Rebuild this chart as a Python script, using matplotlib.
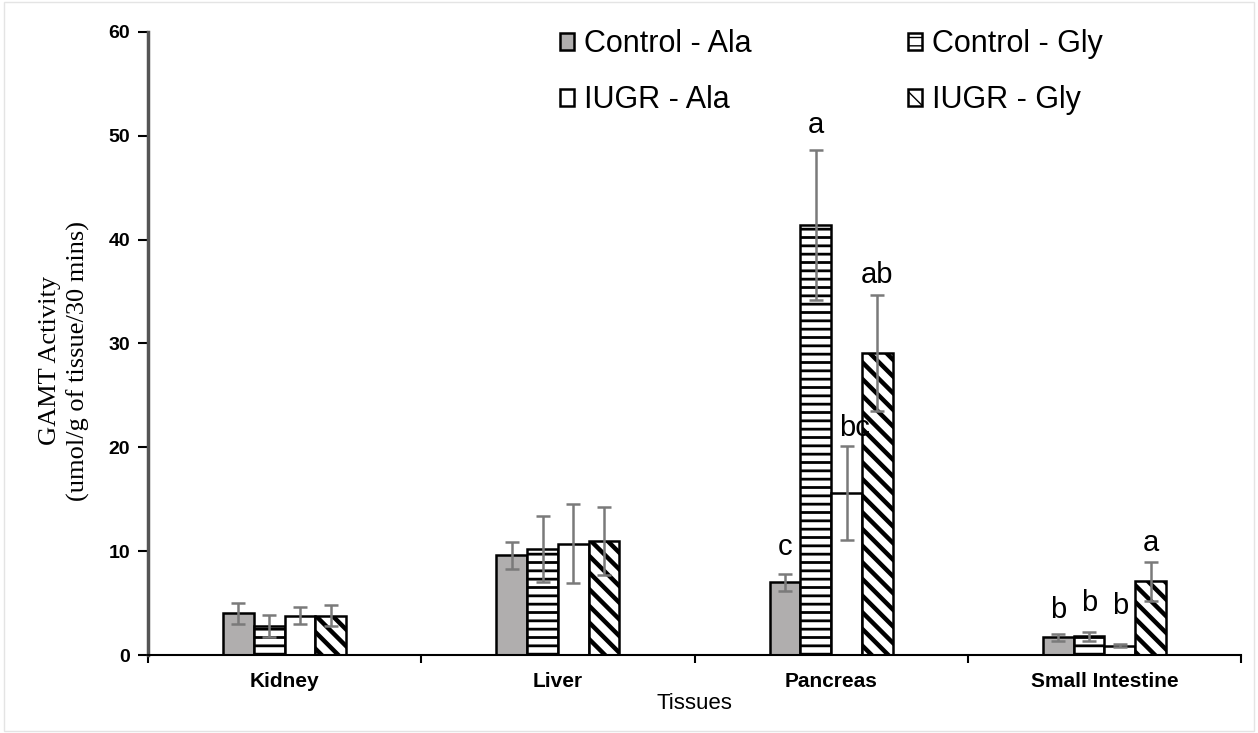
import numpy as np
import matplotlib.pyplot as plt
import matplotlib as mpl

plt.rcParams['font.family'] = ['Liberation Sans', 'DejaVu Sans']

tissues = ["Kidney", "Liver", "Pancreas", "Small Intestine"]
groups = ["Control - Ala", "Control - Gly", "IUGR - Ala", "IUGR - Gly"]

# mean activity per group, one list per tissue order
ctrl_ala = [4.0, 9.6, 7.0, 1.7]
ctrl_gly = [2.8, 10.2, 41.4, 1.8]
iugr_ala = [3.8, 10.7, 15.6, 0.9]
iugr_gly = [3.8, 11.0, 29.1, 7.1]

ctrl_ala_err = [1.0, 1.3, 0.8, 0.35]
ctrl_gly_err = [1.1, 3.2, 7.2, 0.45]
iugr_ala_err = [0.8, 3.8, 4.5, 0.15]
iugr_gly_err = [1.0, 3.3, 5.6, 1.9]

# significance letters: (tissue index, group index, letter, height)
sig_tissue = [2, 2, 2, 2, 3, 3, 3, 3]
sig_group = [0, 1, 2, 3, 0, 1, 2, 3]
sig_text = ["c", "a", "bc", "ab", "b", "b", "b", "a"]
sig_y = [10.4, 51.0, 21.9, 36.6, 4.3, 5.0, 4.7, 10.8]

means = [ctrl_ala, ctrl_gly, iugr_ala, iugr_gly]
errs = [ctrl_ala_err, ctrl_gly_err, iugr_ala_err, iugr_gly_err]
faces = ["#b0aeae", "white", "white", "white"]
hatches = [None, "--", None, "\\\\"]
hatch_lw = [1.0, 2.0, 1.0, 3.2]

fig = plt.figure(figsize=(12.58, 7.33), dpi=100)
ax = fig.add_axes([0.1176, 0.1064, 0.869, 0.850])

x = np.arange(len(tissues)) + 0.5
w = 0.1125
handles = []
for k in range(4):
    pos = x + (k - 1.5) * w
    with mpl.rc_context({'hatch.linewidth': hatch_lw[k]}):
        b = ax.bar(pos, means[k], width=w, color=faces[k], edgecolor="black",
                   linewidth=1.8, hatch=hatches[k], label=groups[k], zorder=2)
    handles.append(b)
    ax.errorbar(pos, means[k], yerr=errs[k], fmt="none", ecolor="#7a7a7a",
                elinewidth=1.8, capsize=5, capthick=1.8, zorder=3)

for t, g, s, yv in zip(sig_tissue, sig_group, sig_text, sig_y):
    xp = x[t] + (g - 1.5) * w
    if s == "bc":
        xp += 0.03
    ax.text(xp, yv, s, ha="center", va="center", fontsize=21)

ax.set_xlim(0, 4)
ax.set_ylim(0, 60)
ax.set_yticks(np.arange(0, 61, 10))
ax.set_xticks(x)
ax.set_xticklabels(tissues, fontweight="bold", fontsize=15)
ax.set_xticks(np.arange(0, 5), minor=True)
ax.tick_params(axis="x", which="major", length=0, pad=12)
ax.tick_params(axis="x", which="minor", length=6, width=1.5, direction="out")
ax.tick_params(axis="y", length=7, width=1.5, direction="out", labelsize=14, pad=6)
for lab in ax.get_yticklabels():
    lab.set_fontweight("bold")

ax.spines["top"].set_visible(False)
ax.spines["right"].set_visible(False)
ax.spines["left"].set_color("#555555")
ax.spines["left"].set_linewidth(2.5)
ax.spines["bottom"].set_linewidth(1.5)

ax.set_xlabel("Tissues", fontsize=16, labelpad=2)
ax.set_ylabel("GAMT Activity\n(umol/g of tissue/30 mins)", fontsize=19,
              family=["Liberation Serif"], linespacing=1.3)
ax.yaxis.set_label_coords(-0.053, 0.472)

# legend filled column-wise -> reorder so rows read CA CG / IA IG
order = [0, 2, 1, 3]
fig.legend([handles[i] for i in order], [groups[i] for i in order],
           loc="upper left", bbox_to_anchor=(0.433, 0.981), ncol=2,
           frameon=False, fontsize=22, handlelength=0.45, handleheight=0.45,
           handletextpad=0.35, columnspacing=5.1, labelspacing=0.85, borderpad=0)

fig.patches.append(mpl.patches.Rectangle((0.003, 0.003), 0.994, 0.994,
                   transform=fig.transFigure, fill=False, edgecolor="#e4e4e4",
                   linewidth=1))

plt.savefig("out.png", dpi=100)
